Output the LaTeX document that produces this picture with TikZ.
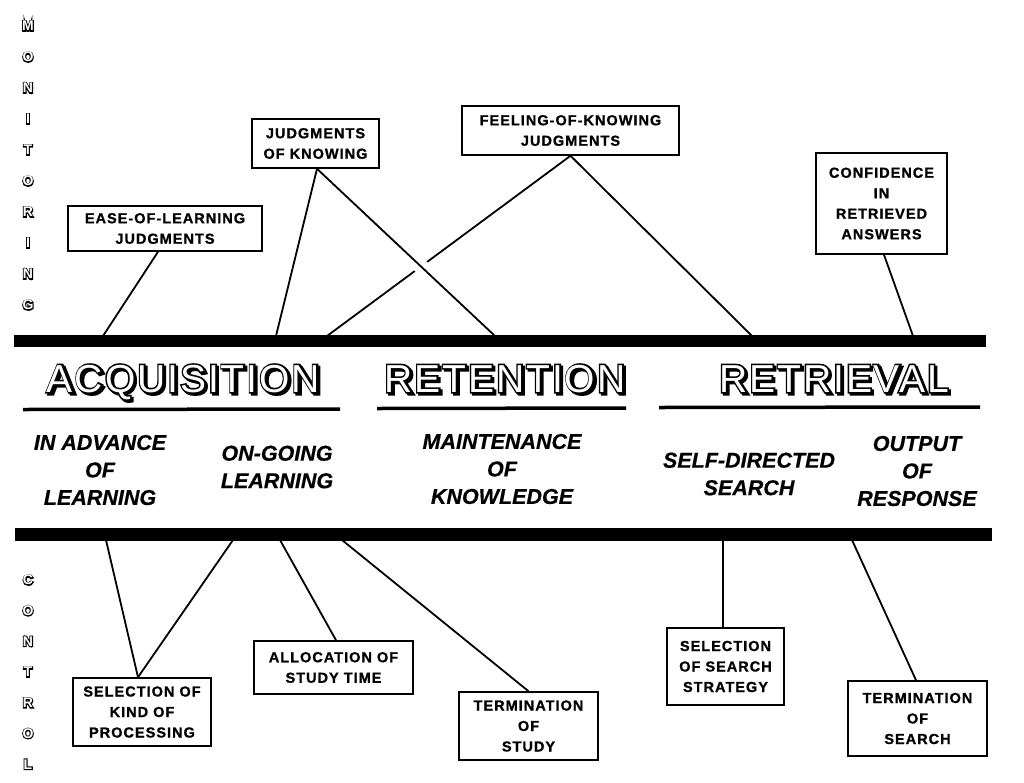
\documentclass[tikz,border=0pt]{standalone}
\usepackage{fontspec}
\setmainfont{Liberation Sans}
\newfontface\boxfont[LetterSpace=7, FakeBold=1]{Liberation Sans Bold}
\newfontface\titlefont[LetterSpace=5]{Liberation Sans}
\newfontface\titlefontB[LetterSpace=5, FakeBold=8]{Liberation Sans}
\newfontface\sidefont{Liberation Sans Bold}
\newfontface\sidefontB[FakeBold=14]{Liberation Sans Bold}
\newfontface\phasefont[FakeBold=0.6]{Liberation Sans Bold Italic}
\usetikzlibrary{calc}
\newcommand{\titletext}[1]{\rlap{\raisebox{-2pt}{\kern2pt\titlefontB\color{black}#1}}\rlap{\titlefontB\color{black}#1}{\titlefont\color{white}#1}}
\newcommand{\sidetext}[1]{\rlap{\sidefontB\color{black}#1}{\sidefont\color{white}#1}}
\tikzset{
  lbl/.style={draw, line width=1.6pt, align=center, inner sep=0pt,
    font=\boxfont\fontsize{14.5}{20.5}\selectfont},
  conn/.style={line width=1.8pt},
  barnode/.style={fill=black, inner sep=0pt, draw=none},
  ttl/.style={inner sep=0pt, anchor=base, font=\fontsize{39}{39}\selectfont},
  phase/.style={inner sep=0pt, align=center, font=\phasefont\fontsize{21.5}{27.5}\selectfont},
  sidel/.style={inner sep=0pt, font=\fontsize{14}{14}\selectfont},
  uline/.style={line width=3.5pt}
}
\begin{document}
\begin{tikzpicture}[x=1pt, y=-1pt]
\useasboundingbox (0,0) rectangle (1024,782);
\fill[white] (0,0) rectangle (1024,782);

% side labels
\foreach \ch [count=\i from 0] in {M,O,N,I,T,O,R,I,N,G}
  \node[sidel] (mon\i) at (28,{26+31*\i}) {\sidetext{\ch}};
\foreach \ch [count=\i from 0] in {C,O,N,T,R,O,L}
  \node[sidel] (ctl\i) at (28,{580+30.7*\i}) {\sidetext{\ch}};

% bars
\node[barnode, minimum width=972pt, minimum height=12pt] (topbar) at (500,341) {};
\node[barnode, minimum width=977pt, minimum height=13pt] (botbar) at (503.5,534.5) {};

% titles with shadow
\node[ttl] (acq) at (183.5,392) {\titletext{ACQUISITION}};
\node[ttl] (ret) at (505,392) {\titletext{RETENTION}};
\node[ttl] (rtv) at (834,392) {\titletext{RETRIEVAL}};

% underlines
\draw[uline] (23,409.5) -- (340,409);
\draw[uline] (377,408.5) -- (626,408);
\draw[uline] (659,407.5) -- (980,407);

% phase texts
\node[phase] (adv) at (100,470) {IN ADVANCE\\OF\\LEARNING};
\node[phase] (ongo) at (277,467) {ON-GOING\\LEARNING};
\node[phase] (maint) at (502,469) {MAINTENANCE\\OF\\KNOWLEDGE};
\node[phase] (selfd) at (749,474) {SELF-DIRECTED\\SEARCH};
\node[phase] (outp) at (917,471) {OUTPUT\\OF\\RESPONSE};

% monitoring boxes
\node[lbl, minimum width=194pt, minimum height=45pt] (eol) at (165,228.5) {EASE-OF-LEARNING\\JUDGMENTS};
\node[lbl, minimum width=127pt, minimum height=49pt] (jok) at (315.5,143.5) {JUDGMENTS\\OF KNOWING};
\node[lbl, minimum width=217pt, minimum height=49pt] (fok) at (570.5,130.5) {FEELING-OF-KNOWING\\JUDGMENTS};
\node[lbl, minimum width=131pt, minimum height=101pt] (conf) at (881.5,203.5) {CONFIDENCE\\IN\\RETRIEVED\\ANSWERS};

% control boxes
\node[lbl, minimum width=138pt, minimum height=68pt] (selkind) at (142,712) {SELECTION OF\\KIND OF\\PROCESSING};
\node[lbl, minimum width=159pt, minimum height=53pt] (alloc) at (333.5,667.5) {ALLOCATION OF\\STUDY TIME};
\node[lbl, minimum width=139pt, minimum height=68pt] (termstudy) at (528.5,726) {TERMINATION\\OF\\STUDY};
\node[lbl, minimum width=117pt, minimum height=77pt] (selsearch) at (725.5,666.5) {SELECTION\\OF SEARCH\\STRATEGY};
\node[lbl, minimum width=139pt, minimum height=75pt] (termsearch) at (917.5,718.5) {TERMINATION\\OF\\SEARCH};

% attachment points on the bars
\coordinate (t1) at (103,336);
\coordinate (t2) at (276,336);
\coordinate (t3) at (495,336);
\coordinate (t4) at (327,336);
\coordinate (t5) at (752,336);
\coordinate (t6) at (913,336);
\coordinate (b1) at (106,540);
\coordinate (b2) at (233,540);
\coordinate (b3) at (280,540);
\coordinate (b4) at (342,540);
\coordinate (b5) at (723,540);
\coordinate (b6) at (852,540);

% monitoring connectors
\draw[conn] ($(eol.south)+(-7,0)$) -- (t1);
\draw[conn] ($(jok.south)+(1.5,0)$) -- (t2);
\draw[conn] (fok.south) -- (t4);
\draw[conn] (fok.south) -- (t5);
\draw[conn, preaction={draw, white, line width=15pt, shorten <=40pt, shorten >=40pt}] ($(jok.south)+(1.5,0)$) -- (t3);
\draw[conn] ($(conf.south)+(2.5,0)$) -- (t6);

% control connectors
\draw[conn] ($(selkind.north)+(-4,0)$) -- (b1);
\draw[conn] ($(selkind.north)+(-4,0)$) -- (b2);
\draw[conn] ($(alloc.north)+(2.5,0)$) -- (b3);
\draw[conn] (termstudy.north) -- (b4);
\draw[conn] ($(selsearch.north)+(-2.5,0)$) -- (b5);
\draw[conn] ($(termsearch.north)+(-1.5,0)$) -- (b6);
\end{tikzpicture}
\end{document}
